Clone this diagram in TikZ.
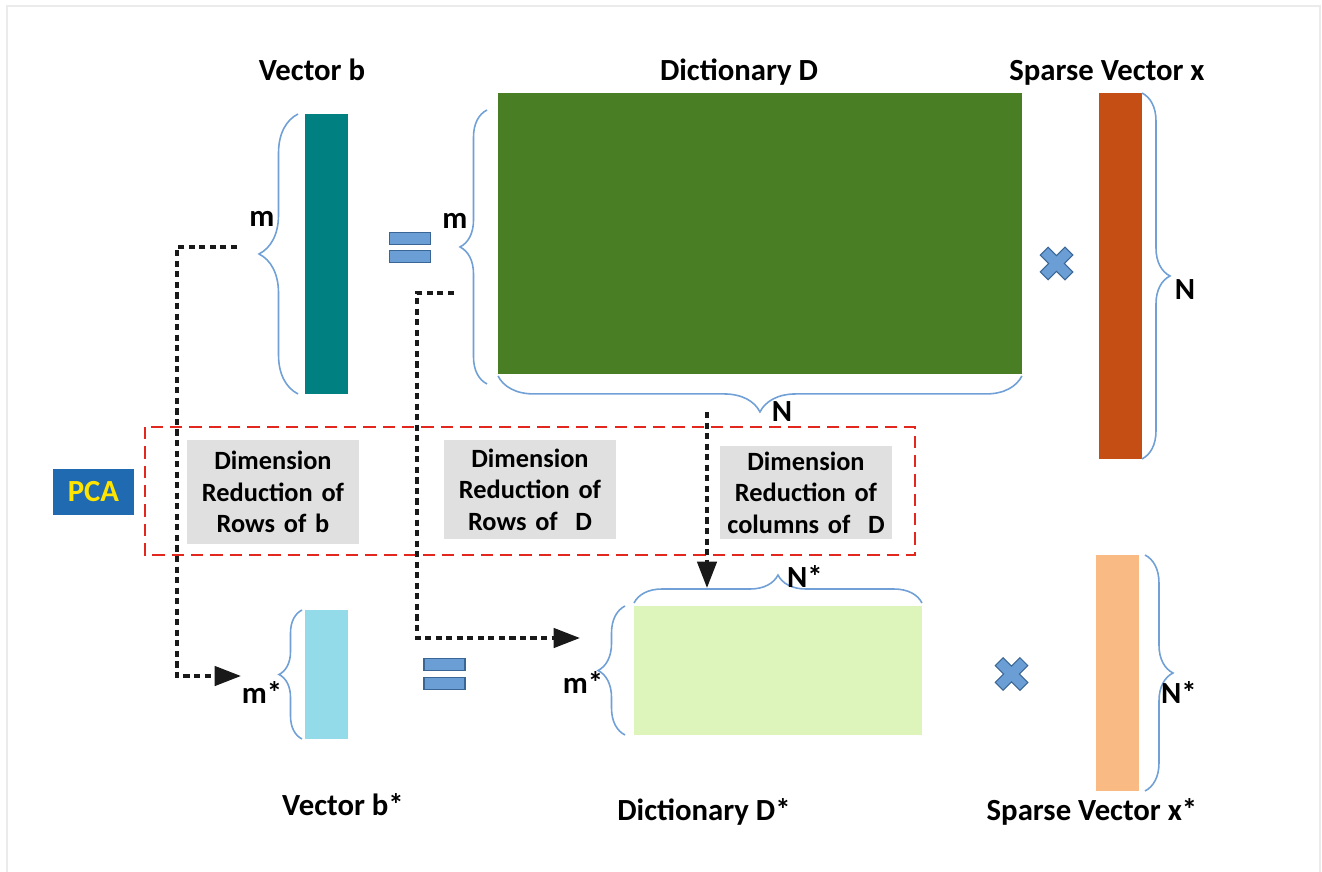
\documentclass[tikz,border=0pt]{standalone}
\usepackage{fontspec}
\setmainfont{Carlito}
\usetikzlibrary{arrows.meta,positioning,decorations.pathreplacing}
\definecolor{tealbar}{RGB}{0,128,128}
\definecolor{dictgreen}{RGB}{74,126,36}
\definecolor{sparseorange}{RGB}{196,78,20}
\definecolor{tealsoft}{RGB}{147,219,232}
\definecolor{greensoft}{RGB}{221,244,187}
\definecolor{orangesoft}{RGB}{249,186,132}
\definecolor{braceblue}{RGB}{112,160,214}
\definecolor{eqfill}{RGB}{106,158,212}
\definecolor{eqedge}{RGB}{58,102,150}
\definecolor{pcared}{RGB}{226,40,30}
\definecolor{pcablue}{RGB}{31,106,176}
\definecolor{pcayellow}{RGB}{255,228,0}
\definecolor{stepgray}{RGB}{224,224,224}
\tikzset{
  bar/.style     = {rectangle, draw=none, inner sep=0pt, outer sep=0pt},
  title/.style   = {font=\fontsize{17.5}{20}\selectfont\bfseries, anchor=base, inner sep=0pt},
  dimlab/.style  = {font=\fontsize{17.5}{20}\selectfont\bfseries, anchor=base, inner sep=0pt},
  brc/.style     = {decorate, decoration={brace, amplitude=#1}, draw=braceblue, line width=0.9pt},
  eqbar/.style   = {rectangle, draw=eqedge, fill=eqfill, line width=0.8pt,
                    minimum width=0.82cm, minimum height=0.25cm, inner sep=0pt},
  dotar/.style   = {-{Triangle[length=15pt,width=11pt]}, line width=2pt,
                    dash pattern=on 3.5pt off 2.5pt, black!90}
}

\begin{document}
\begin{tikzpicture}[
    x=0.02cm, y=-0.02cm,
    stepbox/.style={rectangle, fill=stepgray, text width=3.3cm, inner xsep=0.07cm,
                    inner ysep=0pt, align=center,
                    font=\fontsize{15}{18}\selectfont\bfseries},
    redframe/.style={draw=pcared, line width=1.1pt, dash pattern=on 7pt off 4pt},
    pcabox/.style={rectangle, fill=pcablue, minimum width=1.62cm, minimum height=0.92cm,
                   inner sep=0pt, text=pcayellow, font=\fontsize{17.5}{20}\selectfont\bfseries},
    xsign/.style={draw=eqedge, fill=eqfill, line width=0.6pt}
  ]
  \useasboundingbox (0,0) rectangle (1322,872);
  \draw[black!8, line width=0.8pt] (7,880) -- (7,6) -- (1320,6) -- (1320,880);

  % ===================== top row: b = D x =====================
  \node[bar, fill=tealbar, minimum width=0.86cm, minimum height=5.6cm,
        anchor=north west] (vb) at (305,114) {};
  \node[bar, fill=dictgreen, minimum width=10.48cm, minimum height=5.62cm,
        anchor=north west] (dd) at (498,93) {};
  \node[bar, fill=sparseorange, minimum width=0.86cm, minimum height=7.32cm,
        anchor=north west] (vx) at (1099,93) {};

  \node[title] (tb) at (312,80) {Vector b};
  \node[title] (td) at (739,80) {Dictionary D};
  \node[title] (tx) at (1107,80) {Sparse Vector x};

  \node[eqbar] (eq1a) at (410,238.5) {};
  \node[eqbar] (eq1b) at (410,256.5) {};
  \begin{scope}[shift={(1056.5,263.5)}, rotate=45]
    \draw[xsign] (17.5,5.5) -- (5.5,5.5) -- (5.5,17.5) -- (-5.5,17.5) -- (-5.5,5.5)
      -- (-17.5,5.5) -- (-17.5,-5.5) -- (-5.5,-5.5) -- (-5.5,-17.5) -- (5.5,-17.5)
      -- (5.5,-5.5) -- (17.5,-5.5) -- cycle;
  \end{scope}

  \draw[brc=0.78cm] ([xshift=-0.14cm]vb.south west) -- ([xshift=-0.14cm]vb.north west);
  \draw[brc=0.54cm] ([xshift=-0.22cm,yshift=-0.2cm]dd.south west)
                 -- ([xshift=-0.22cm,yshift=-0.34cm]dd.north west);
  \draw[brc=0.72cm] ([yshift=-0.04cm]dd.south east) -- ([yshift=-0.04cm]dd.south west);
  \draw[brc=0.56cm] (vx.north east) -- (vx.south east);

  \node[dimlab] (mb) at (262,226) {m};
  \node[dimlab] (md) at (455,228) {m};
  \node[dimlab] (nd) at (782,421) {N};
  \node[dimlab] (nx) at (1185,299) {N};

  % ===================== PCA band =====================
  \draw[redframe] (145,427) rectangle (915,555);
  \node[pcabox] (pca) at (93.5,492) {PCA};
  \node[stepbox, minimum height=2.08cm] (rb) at (273,492)
    {Dimension\\Reduction of\\Rows of b};
  \node[stepbox, minimum height=1.98cm] (rd) at (530,489.5)
    {Dimension\\Reduction of\\Rows of\ \ D};
  \node[stepbox, minimum height=1.86cm] (cd) at (806,492.5)
    {Dimension\\Reduction of\\columns of\ \ D};

  % ===================== bottom row: b* = D* x* =====================
  \node[bar, fill=tealsoft, minimum width=0.86cm, minimum height=2.58cm,
        anchor=north west] (vbs) at (305,610) {};
  \node[bar, fill=greensoft, minimum width=5.76cm, minimum height=2.58cm,
        anchor=north west] (dds) at (634,606) {};
  \node[bar, fill=orangesoft, minimum width=0.86cm, minimum height=4.72cm,
        anchor=north west] (vxs) at (1096,555) {};

  \node[title] (tbs) at (343,815) {Vector b*};
  \node[title] (tds) at (704,820) {Dictionary D*};
  \node[title] (txs) at (1092,820) {Sparse Vector x*};

  \node[eqbar] (eq2a) at (444.5,664.5) {};
  \node[eqbar] (eq2b) at (444.5,683.5) {};
  \begin{scope}[shift={(1011.5,674)}, rotate=45]
    \draw[xsign] (17.5,5.5) -- (5.5,5.5) -- (5.5,17.5) -- (-5.5,17.5) -- (-5.5,5.5)
      -- (-17.5,5.5) -- (-17.5,-5.5) -- (-5.5,-5.5) -- (-5.5,-17.5) -- (5.5,-17.5)
      -- (5.5,-5.5) -- (17.5,-5.5) -- cycle;
  \end{scope}

  \draw[brc=0.46cm] ([xshift=-0.06cm]vbs.south west) -- ([xshift=-0.06cm]vbs.north west);
  \draw[brc=0.54cm] ([xshift=-0.18cm]dds.south west) -- ([xshift=-0.18cm]dds.north west);
  \draw[brc=0.56cm] ([yshift=0.06cm]dds.north west) -- ([yshift=0.06cm]dds.north east);
  \draw[brc=0.56cm] ([xshift=0.12cm]vxs.north east) -- ([xshift=0.12cm]vxs.south east);

  \node[dimlab] (mbs) at (262,703) {m*};
  \node[dimlab] (mds) at (583,693) {m*};
  \node[dimlab] (nds) at (805,587) {N*};
  \node[dimlab] (nxs) at (1179,703) {N*};

  % ===================== reduction arrows =====================
  \coordinate (a1s) at (237,247);
  \coordinate (a1e) at (241,676);
  \coordinate (a2s) at (454,293);
  \coordinate (a2e) at (580,638);
  \coordinate (a3s) at (707,412);
  \coordinate (a3e) at (707,588);
  \draw[dotar] (a1s) -- ++(-60,0) |- (a1e);
  \draw[dotar] (a2s) -- ++(-37,0) |- (a2e);
  \draw[dotar] (a3s) -- (a3e);
\end{tikzpicture}
\end{document}
